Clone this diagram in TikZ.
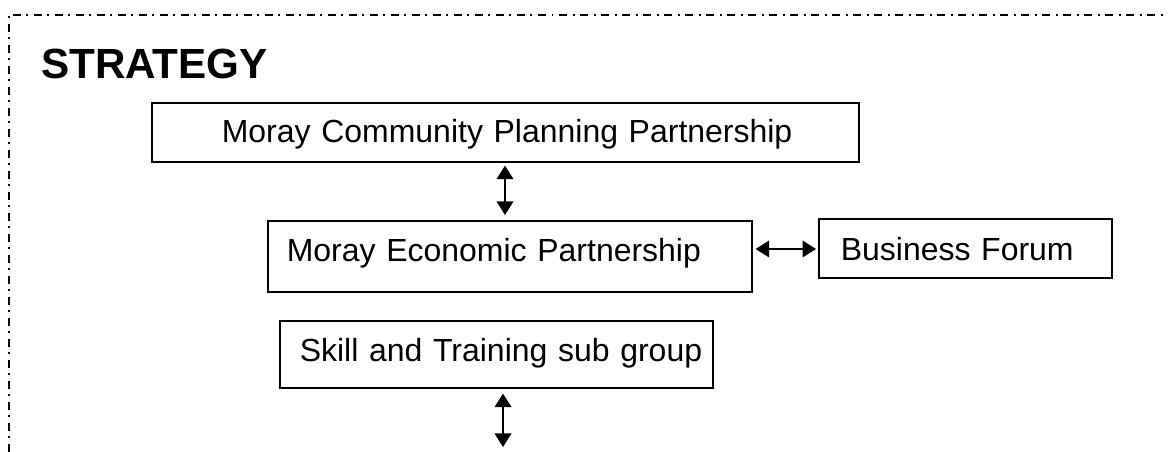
\documentclass[tikz,border=0pt]{standalone}
\usepackage{fontspec}
\setmainfont{Liberation Sans}
\usetikzlibrary{arrows.meta, calc}

\tikzset{
  box/.style={draw, line width=0.9pt, anchor=north west, inner ysep=0pt,
    align=left, font=\fontsize{18.2}{22}\selectfont},
  link/.style={line width=1.1pt,
    {Triangle[length=0.27cm,width=0.33cm]}-{Triangle[length=0.27cm,width=0.33cm]}},
  frame/.style={line width=0.85pt, dash pattern=on 0.16cm off 0.11cm on 0.04cm off 0.11cm},
}

\begin{document}
\begin{tikzpicture}
    \useasboundingbox (0,0) rectangle (23.36,9.04);
    % outer frame
    \draw[frame] (0.18,0) -- (0.18,8.74) -- (23.36,8.74);
    \node[anchor=base west, font=\fontsize{24}{28}\selectfont\bfseries] (title) at (0.70,7.46) {STRATEGY};
    % boxes
    \node[box, minimum width=14.14cm, inner xsep=1.40cm, text width=11.34cm,
      text height=0.80cm, text depth=0.38cm] (mcpp) at (3.02,7.00) {\mbox{Moray Community Planning Partnership}};
    \node[box, minimum width=9.68cm, inner xsep=0.38cm, text width=8.92cm,
      text height=0.82cm, text depth=0.60cm] (mep) at (5.34,4.64) {\mbox{Moray Economic Partnership}};
    \node[box, minimum width=5.86cm, inner xsep=0.44cm, text width=4.98cm,
      text height=0.84cm, text depth=0.34cm] (bf) at (16.36,4.68) {\mbox{Business Forum}};
    \node[box, minimum width=8.66cm, inner xsep=0.40cm, text width=7.86cm,
      text height=0.82cm, text depth=0.52cm] (stsg) at (5.58,2.64) {\mbox{Skill and Training sub group}};
    % arrows
    \coordinate (ax) at (10.10,0);
    \coordinate (hy) at (0,4.06);
    \coordinate (below) at (10.06,0.10);
    \draw[link, shorten <=0.06cm, shorten >=0.10cm] (mcpp.south -| ax) -- (mep.north -| ax);
    \draw[link, shorten <=0.06cm, shorten >=0.04cm] (mep.east |- hy) -- (bf.west |- hy);
    \draw[link, shorten <=0.10cm] (stsg.south -| below) -- (below);
\end{tikzpicture}
\end{document}
